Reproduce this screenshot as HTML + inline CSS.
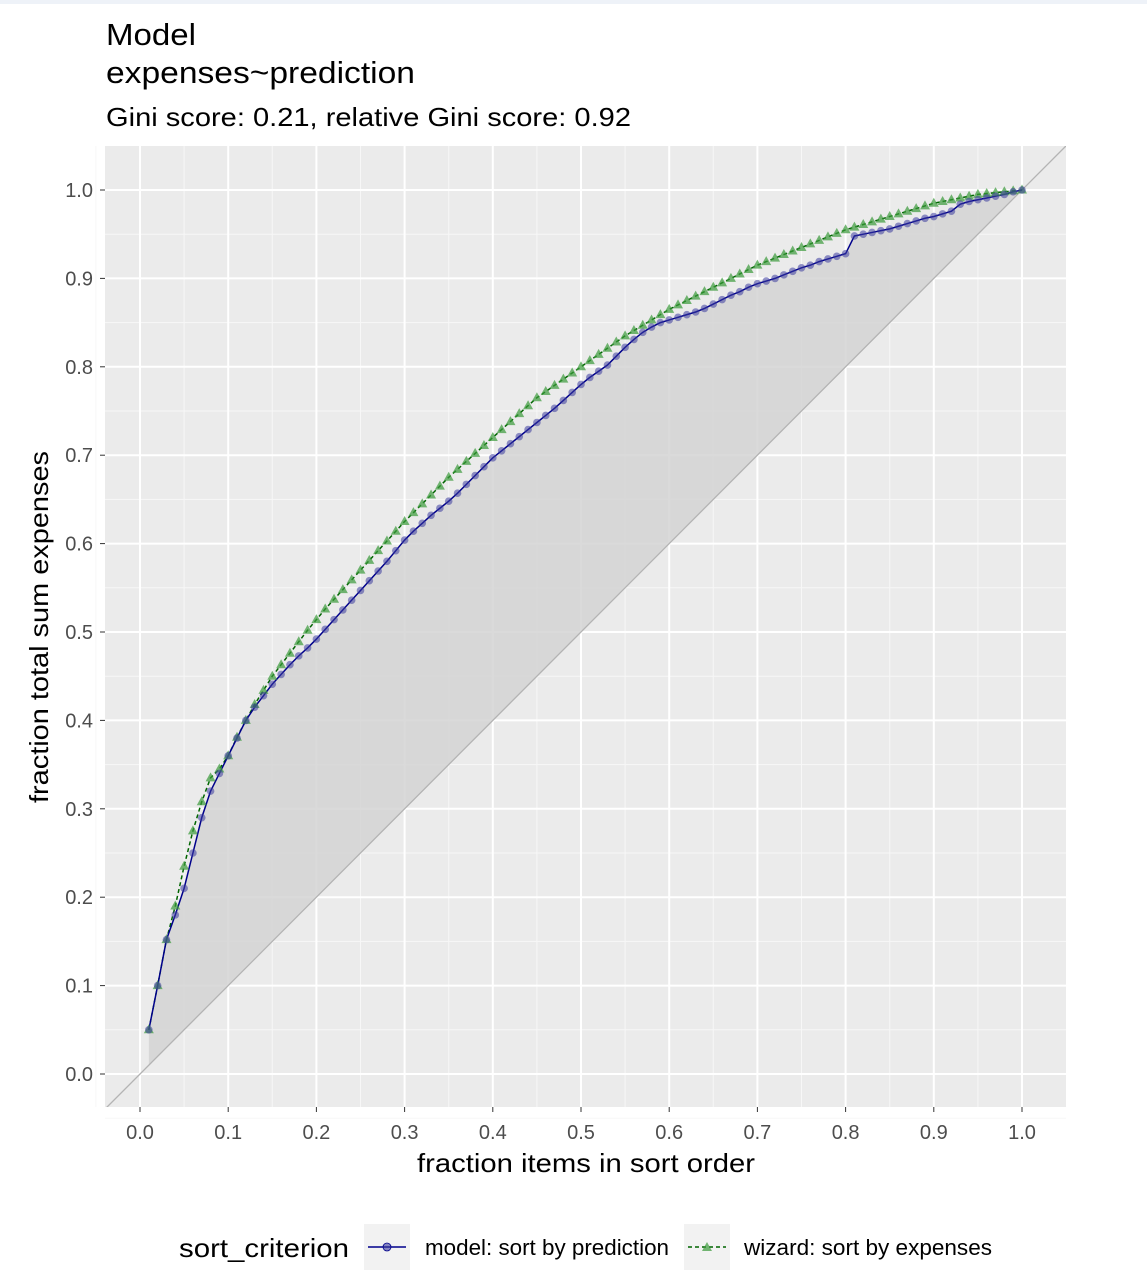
<!DOCTYPE html>
<html><head><meta charset="utf-8"><style>
body{margin:0;background:#fff;}
svg text{font-family:"Liberation Sans",Arial,sans-serif;}
</style></head><body>
<svg id="chart" width="1147" height="1278" viewBox="0 0 1147 1278" xmlns="http://www.w3.org/2000/svg">
<rect x="0" y="0" width="1147" height="4" fill="#eef2f8"/>
<text x="106" y="45" font-size="31" textLength="90" lengthAdjust="spacingAndGlyphs" fill="#000">Model</text>
<text x="106" y="83" font-size="31" textLength="309" lengthAdjust="spacingAndGlyphs" fill="#000">expenses~prediction</text>
<text x="106" y="126" font-size="26" textLength="525" lengthAdjust="spacingAndGlyphs" fill="#000">Gini score: 0.21, relative Gini score: 0.92</text>
<defs><clipPath id="pc"><rect x="105" y="146" width="961" height="961"/></clipPath></defs>
<rect x="105" y="146" width="961" height="961" fill="#ebebeb"/>
<g id="grid"></g>
<g id="marks" clip-path="url(#pc)"></g>
<g id="axes"></g>
<text x="586" y="1172" font-size="26" textLength="338" lengthAdjust="spacingAndGlyphs" text-anchor="middle" fill="#000">fraction items in sort order</text>
<text transform="translate(48,627) rotate(-90)" font-size="26" textLength="352" lengthAdjust="spacingAndGlyphs" text-anchor="middle" fill="#000">fraction total sum expenses</text>
<g>
<text x="179" y="1257" font-size="26" textLength="170" lengthAdjust="spacingAndGlyphs" fill="#000">sort_criterion</text>
<g>
<rect x="364" y="1224" width="46" height="46" fill="#f2f2f2"/>
<line x1="368" y1="1247" x2="406" y2="1247" stroke="#00008b" stroke-width="1.5"/>
<circle cx="387" cy="1247" r="4" fill="#3c3c9e" fill-opacity="0.6" stroke="#00008b" stroke-width="0.8"/>
<text x="425" y="1255" font-size="22" textLength="244" lengthAdjust="spacingAndGlyphs" fill="#000">model: sort by prediction</text>
</g>
<g>
<rect x="684" y="1224" width="46" height="46" fill="#f2f2f2"/>
<line x1="688" y1="1247" x2="726" y2="1247" stroke="#006400" stroke-width="1.5" stroke-dasharray="4,3"/>
<polygon points="707,1242 712,1251 702,1251" fill="#3a9a3a" fill-opacity="0.7"/>
<text x="744" y="1255" font-size="22" textLength="248" lengthAdjust="spacingAndGlyphs" fill="#000">wizard: sort by expenses</text>
</g>
</g>
</svg>
<script>
const xs=[];for(let i=1;i<=100;i++)xs.push(i/100);
const modelY=[0.050,0.100,0.152,0.180,0.210,0.250,0.290,0.320,0.340,0.360,
0.380,0.400,0.415,0.428,0.441,0.452,0.463,0.473,0.482,0.492,
0.503,0.514,0.525,0.536,0.547,0.558,0.569,0.580,0.592,0.604,
0.614,0.623,0.632,0.640,0.648,0.657,0.667,0.677,0.687,0.697,
0.705,0.713,0.721,0.729,0.737,0.745,0.753,0.762,0.771,0.780,
0.788,0.795,0.802,0.812,0.822,0.831,0.839,0.845,0.850,0.853,
0.856,0.859,0.862,0.866,0.871,0.876,0.881,0.885,0.890,0.894,
0.897,0.900,0.904,0.908,0.912,0.915,0.919,0.922,0.925,0.928,
0.948,0.950,0.952,0.954,0.956,0.959,0.962,0.965,0.968,0.970,
0.973,0.976,0.984,0.987,0.989,0.991,0.993,0.995,0.998,1.000];
const wizardY=[0.050,0.100,0.152,0.190,0.235,0.275,0.308,0.335,0.345,0.360,
0.381,0.400,0.418,0.434,0.450,0.463,0.476,0.489,0.502,0.514,
0.526,0.537,0.548,0.559,0.570,0.581,0.592,0.603,0.614,0.625,
0.635,0.645,0.655,0.665,0.675,0.684,0.693,0.702,0.711,0.720,
0.729,0.738,0.747,0.756,0.765,0.772,0.779,0.786,0.793,0.800,
0.807,0.814,0.821,0.828,0.835,0.841,0.847,0.853,0.859,0.865,
0.870,0.875,0.880,0.885,0.890,0.895,0.900,0.905,0.910,0.915,
0.919,0.923,0.927,0.931,0.935,0.939,0.943,0.947,0.951,0.955,
0.958,0.961,0.964,0.967,0.970,0.973,0.976,0.979,0.982,0.985,
0.987,0.989,0.991,0.993,0.995,0.996,0.997,0.998,0.999,1.000];
const xTicks=[0.0,0.1,0.2,0.3,0.4,0.5,0.6,0.7,0.8,0.9,1.0];
const yTicks=[0.0,0.1,0.2,0.3,0.4,0.5,0.6,0.7,0.8,0.9,1.0];
const X=v=>140+v*882, Y=v=>1074-v*884;
const NS="http://www.w3.org/2000/svg";
function mk(tag,attrs,parent){const e=document.createElementNS(NS,tag);for(const k in attrs)e.setAttribute(k,attrs[k]);parent.appendChild(e);return e;}
const grid=document.getElementById('grid'),marks=document.getElementById('marks'),axes=document.getElementById('axes');
for(let i=-1;i<xTicks.length;i++){
 const v=(i<0?-0.05:xTicks[i]+0.05);
 if(v<=1.04){const m=mk('line',{x1:X(v),x2:X(v),y1:146,y2:1107,stroke:'#f7f7f7','stroke-width':1},grid);
 
 
 const n=mk('line',{x1:105,x2:1066,y1:Y(v),y2:Y(v),stroke:'#f7f7f7','stroke-width':1},grid);
 
 }
}
xTicks.forEach(v=>{
 const g=mk('line',{x1:X(v),x2:X(v),y1:146,y2:1107,stroke:'#fff','stroke-width':2},grid);
 
 
 const t=mk('line',{x1:X(v),x2:X(v),y1:1107,y2:1112,stroke:'#333','stroke-width':1},axes);
 
 
 const l=mk('text',{x:X(v),y:1139,'font-size':20,'text-anchor':'middle',fill:'#4d4d4d'},axes);
 l.textContent=v.toFixed(1);
 
 
});
yTicks.forEach(v=>{
 const g=mk('line',{x1:105,x2:1066,y1:Y(v),y2:Y(v),stroke:'#fff','stroke-width':2},grid);
 
 
 const t=mk('line',{x1:100,x2:105,y1:Y(v),y2:Y(v),stroke:'#333','stroke-width':1},axes);
 
 
 const l=mk('text',{x:93,y:Y(v)+7,'font-size':20,'text-anchor':'end',fill:'#4d4d4d'},axes);
 l.textContent=v.toFixed(1);
 
 
});
let rp='M'+X(xs[0])+','+Y(xs[0]);
xs.forEach((x,i)=>rp+='L'+X(x)+','+Y(modelY[i]));
for(let i=xs.length-1;i>=0;i--)rp+='L'+X(xs[i])+','+Y(xs[i]);
const rib=mk('path',{d:rp+'Z',fill:'#d4d4d4','fill-opacity':0.85},marks);


const diag=mk('line',{x1:X(-0.1),y1:Y(-0.1),x2:X(1.1),y2:Y(1.1),stroke:'#b3b3b3','stroke-width':1.3},marks);


const wl=mk('path',{d:xs.map((x,i)=>(i?'L':'M')+X(x)+','+Y(wizardY[i])).join(''),fill:'none',stroke:'#006400','stroke-width':1.5,'stroke-dasharray':'4,3'},marks);


const ml=mk('path',{d:xs.map((x,i)=>(i?'L':'M')+X(x)+','+Y(modelY[i])).join(''),fill:'none',stroke:'#00008b','stroke-width':1.5},marks);


xs.forEach((x,i)=>{
 const cx=X(x),cy=Y(wizardY[i]);
 const p=mk('polygon',{points:`${cx},${cy-5.5} ${cx+5},${cy+3.5} ${cx-5},${cy+3.5}`,fill:'#3a9a3a','fill-opacity':0.7},marks);
 
 
});
xs.forEach((x,i)=>{
 const c=mk('circle',{cx:X(x),cy:Y(modelY[i]),r:3.8,fill:'#3c3c9e','fill-opacity':0.55},marks);
 
 
});
</script>
</body></html>
